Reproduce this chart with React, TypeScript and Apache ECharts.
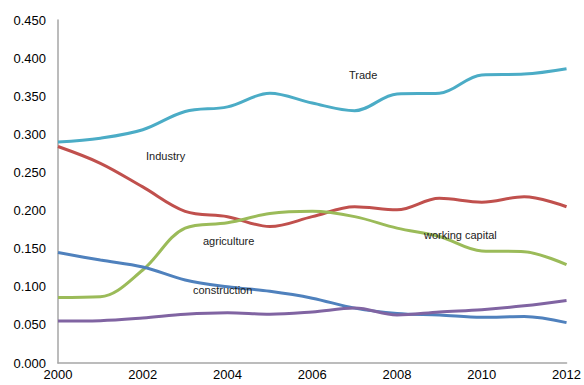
import React, { useEffect, useRef } from "react";
import * as echarts from "echarts";

const years = [2000, 2001, 2002, 2003, 2004, 2005, 2006, 2007, 2008, 2009, 2010, 2011, 2012];
const trade = [0.290, 0.295, 0.306, 0.330, 0.336, 0.354, 0.341, 0.331, 0.353, 0.354, 0.378, 0.379, 0.386];
const industry = [0.284, 0.262, 0.231, 0.199, 0.192, 0.179, 0.192, 0.205, 0.201, 0.216, 0.211, 0.218, 0.205];
const agriculture = [0.086, 0.087, 0.122, 0.177, 0.184, 0.196, 0.199, 0.192, 0.177, 0.166, 0.147, 0.146, 0.129];
const construction = [0.145, 0.135, 0.126, 0.109, 0.100, 0.094, 0.085, 0.072, 0.065, 0.063, 0.060, 0.061, 0.053];
const workingCapital = [0.055, 0.0555, 0.059, 0.064, 0.066, 0.064, 0.067, 0.072, 0.063, 0.067, 0.070, 0.075, 0.082];

const seriesNames = ["Trade", "Industry", "agriculture", "construction", "working capital"];
const seriesData = [trade, industry, agriculture, construction, workingCapital];
const colors = ["#4bacc6", "#c0504d", "#9bbb59", "#4f81bd", "#8064a2"];

const annotations = [
  { text: "Trade", x: 349, y: 69 },
  { text: "Industry", x: 146, y: 150 },
  { text: "agriculture", x: 203, y: 235 },
  { text: "construction", x: 193, y: 284 },
  { text: "working capital", x: 424, y: 229 },
];

export default function App() {
  const ref = useRef<HTMLDivElement>(null);
  useEffect(() => {
    if (!ref.current) return;
    const chart = echarts.init(ref.current, undefined, { renderer: "svg" });
    chart.setOption({
      animation: false,
      grid: { left: 58, right: 16, top: 20, bottom: 22, containLabel: false },
      xAxis: {
        type: "value",
        min: 2000,
        max: 2012,
        interval: 2,
        axisLine: { show: true, lineStyle: { color: "#a6a6a6", width: 1.5 } },
        axisTick: { show: false },
        splitLine: { show: false },
        axisLabel: {
          color: "#000",
          fontFamily: "Liberation Sans, Arial, sans-serif",
          fontSize: 13,
          margin: 5,
          formatter: (v: number) => String(v),
        },
      },
      yAxis: {
        type: "value",
        min: 0,
        max: 0.45,
        interval: 0.05,
        axisLine: { show: true, lineStyle: { color: "#a6a6a6", width: 1.5 } },
        axisTick: { show: false },
        splitLine: { show: false },
        axisLabel: {
          color: "#000",
          fontFamily: "Liberation Sans, Arial, sans-serif",
          fontSize: 13,
          margin: 12,
          formatter: (v: number) => v.toFixed(3),
        },
      },
      series: seriesNames.map((name, i) => ({
        name,
        type: "line",
        smooth: 0.35,
        symbol: "none",
        data: years.map((y, j) => [y, seriesData[i][j]]),
        lineStyle: { color: colors[i], width: 3 },
        itemStyle: { color: colors[i] },
      })),
      graphic: annotations.map((a) => ({
        type: "text",
        left: a.x,
        top: a.y,
        z: 100,
        style: {
          text: a.text,
          fill: "#222",
          font: "11px 'Liberation Sans', Arial, sans-serif",
        },
      })),
    });
    return () => chart.dispose();
  }, []);
  return <div ref={ref} style={{ width: 584, height: 385, position: "absolute", left: 0, top: 0 }} />;
}
